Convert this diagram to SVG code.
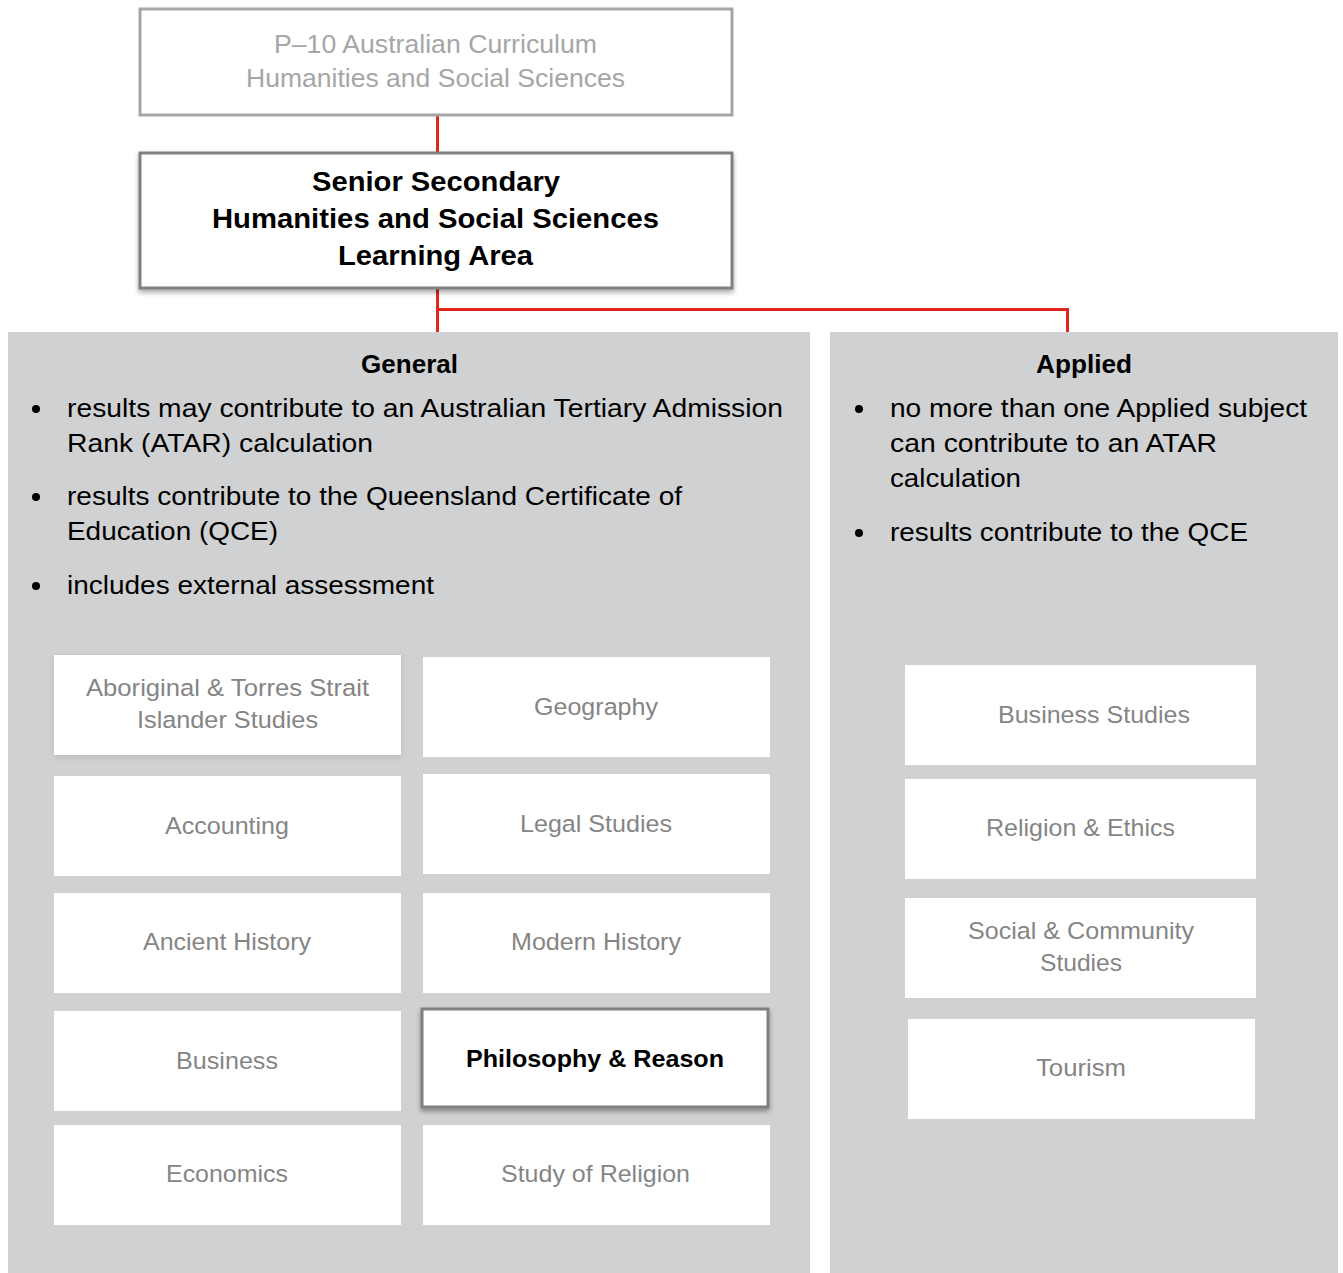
<svg xmlns="http://www.w3.org/2000/svg" width="1343" height="1273" viewBox="0 0 1343 1273">
<defs>
<style>
.panel{fill:#d0d1d3}
.tile{fill:#ffffff}
text{font-family:"Liberation Sans",Arial,sans-serif}
.tt{font-size:24.5px;fill:#858585;text-anchor:middle}
.tp{font-size:25px;fill:#a6a6a6;text-anchor:middle}
.bt{font-size:26.5px;fill:#000}
.hd{font-size:25px;font-weight:bold;fill:#000;text-anchor:middle}
.hb{font-size:27.5px;font-weight:bold;fill:#000;text-anchor:middle}
.conn{stroke:#e1251b;stroke-width:3;fill:none}
</style>
<filter id="sh" x="-10%" y="-10%" width="120%" height="130%">
<feDropShadow dx="0" dy="3" stdDeviation="2.5" flood-color="#000" flood-opacity="0.35"/>
</filter>
<filter id="sh2" x="-10%" y="-10%" width="120%" height="130%">
<feDropShadow dx="0" dy="2" stdDeviation="3" flood-color="#000" flood-opacity="0.12"/>
</filter>
</defs>
<rect width="1343" height="1273" fill="#ffffff"/>

<g id="connectors">
<path class="conn" d="M437.5 115 V152"/>
<path class="conn" d="M437.5 288 V332 M437.5 309.5 H1067.5 V332"/>
</g>

<g id="p10">
<rect x="140" y="9" width="592" height="106" fill="#fff" stroke="#a6a6a6" stroke-width="3"/>
<text class="tp" x="435.5" y="53" textLength="323" lengthAdjust="spacingAndGlyphs">P–10 Australian Curriculum</text>
<text class="tp" x="435.5" y="87" textLength="379" lengthAdjust="spacingAndGlyphs">Humanities and Social Sciences</text>
</g>

<g id="senior">
<rect x="140" y="153" width="592" height="135" fill="#fff" stroke="#7f7f80" stroke-width="3" filter="url(#sh)"/>
<text class="hb" x="436" y="191" textLength="248" lengthAdjust="spacingAndGlyphs">Senior Secondary</text>
<text class="hb" x="435.5" y="228" textLength="447" lengthAdjust="spacingAndGlyphs">Humanities and Social Sciences</text>
<text class="hb" x="435.5" y="265" textLength="195" lengthAdjust="spacingAndGlyphs">Learning Area</text>
</g>

<g id="general">
<rect class="panel" x="8" y="332" width="802" height="941"/>
<text class="hd" x="409.5" y="373" textLength="97" lengthAdjust="spacingAndGlyphs">General</text>
<circle cx="36" cy="409" r="4" fill="#000"/>
<text class="bt" x="67" y="417" textLength="716" lengthAdjust="spacingAndGlyphs">results may contribute to an Australian Tertiary Admission</text>
<text class="bt" x="67" y="452" textLength="306" lengthAdjust="spacingAndGlyphs">Rank (ATAR) calculation</text>
<circle cx="36" cy="497" r="4" fill="#000"/>
<text class="bt" x="67" y="505" textLength="615" lengthAdjust="spacingAndGlyphs">results contribute to the Queensland Certificate of</text>
<text class="bt" x="67" y="540" textLength="211" lengthAdjust="spacingAndGlyphs">Education (QCE)</text>
<circle cx="36" cy="586" r="4" fill="#000"/>
<text class="bt" x="67" y="594" textLength="367" lengthAdjust="spacingAndGlyphs">includes external assessment</text>
</g>

<g id="applied">
<rect class="panel" x="830" y="332" width="508" height="941"/>
<text class="hd" x="1084" y="373" textLength="96" lengthAdjust="spacingAndGlyphs">Applied</text>
<circle cx="859" cy="409" r="4" fill="#000"/>
<text class="bt" x="890" y="417" textLength="417" lengthAdjust="spacingAndGlyphs">no more than one Applied subject</text>
<text class="bt" x="890" y="452" textLength="327" lengthAdjust="spacingAndGlyphs">can contribute to an ATAR</text>
<text class="bt" x="890" y="487" textLength="131" lengthAdjust="spacingAndGlyphs">calculation</text>
<circle cx="859" cy="533" r="4" fill="#000"/>
<text class="bt" x="890" y="541" textLength="358" lengthAdjust="spacingAndGlyphs">results contribute to the QCE</text>
</g>

<g id="aboriginal">
<rect class="tile" x="54" y="655" width="347" height="100" filter="url(#sh2)"/>
<text class="tt" x="227.5" y="696" textLength="283" lengthAdjust="spacingAndGlyphs">Aboriginal &amp; Torres Strait</text>
<text class="tt" x="227.5" y="728" textLength="181" lengthAdjust="spacingAndGlyphs">Islander Studies</text>
</g>
<g id="geography">
<rect class="tile" x="423" y="657" width="347" height="100"/>
<text class="tt" x="596" y="715" textLength="124" lengthAdjust="spacingAndGlyphs">Geography</text>
</g>
<g id="accounting">
<rect class="tile" x="54" y="776" width="347" height="100"/>
<text class="tt" x="227" y="834" textLength="124" lengthAdjust="spacingAndGlyphs">Accounting</text>
</g>
<g id="legal">
<rect class="tile" x="423" y="774" width="347" height="100"/>
<text class="tt" x="596" y="832" textLength="152" lengthAdjust="spacingAndGlyphs">Legal Studies</text>
</g>
<g id="ancient">
<rect class="tile" x="54" y="893" width="347" height="100"/>
<text class="tt" x="227" y="950" textLength="168" lengthAdjust="spacingAndGlyphs">Ancient History</text>
</g>
<g id="modern">
<rect class="tile" x="423" y="893" width="347" height="100"/>
<text class="tt" x="596" y="950" textLength="170" lengthAdjust="spacingAndGlyphs">Modern History</text>
</g>
<g id="business">
<rect class="tile" x="54" y="1011" width="347" height="100"/>
<text class="tt" x="227" y="1069" textLength="102" lengthAdjust="spacingAndGlyphs">Business</text>
</g>
<g id="philosophy">
<rect x="422" y="1009" width="346" height="98" fill="#fff" stroke="#7f7f80" stroke-width="3" filter="url(#sh)"/>
<text class="hd" x="595" y="1067" style="font-size:24.5px" textLength="258" lengthAdjust="spacingAndGlyphs">Philosophy &amp; Reason</text>
</g>
<g id="economics">
<rect class="tile" x="54" y="1125" width="347" height="100"/>
<text class="tt" x="227" y="1182" textLength="122" lengthAdjust="spacingAndGlyphs">Economics</text>
</g>
<g id="religion">
<rect class="tile" x="423" y="1125" width="347" height="100"/>
<text class="tt" x="595.5" y="1182" textLength="189" lengthAdjust="spacingAndGlyphs">Study of Religion</text>
</g>

<g id="business-studies">
<rect class="tile" x="905" y="665" width="351" height="100"/>
<text class="tt" x="1094" y="723" textLength="192" lengthAdjust="spacingAndGlyphs">Business Studies</text>
</g>
<g id="religion-ethics">
<rect class="tile" x="905" y="779" width="351" height="100"/>
<text class="tt" x="1080.5" y="836" textLength="189" lengthAdjust="spacingAndGlyphs">Religion &amp; Ethics</text>
</g>
<g id="social">
<rect class="tile" x="905" y="898" width="351" height="100"/>
<text class="tt" x="1081" y="939" textLength="226" lengthAdjust="spacingAndGlyphs">Social &amp; Community</text>
<text class="tt" x="1081" y="971" textLength="82" lengthAdjust="spacingAndGlyphs">Studies</text>
</g>
<g id="tourism">
<rect class="tile" x="908" y="1019" width="347" height="100"/>
<text class="tt" x="1081" y="1076" textLength="90" lengthAdjust="spacingAndGlyphs">Tourism</text>
</g>
</svg>
